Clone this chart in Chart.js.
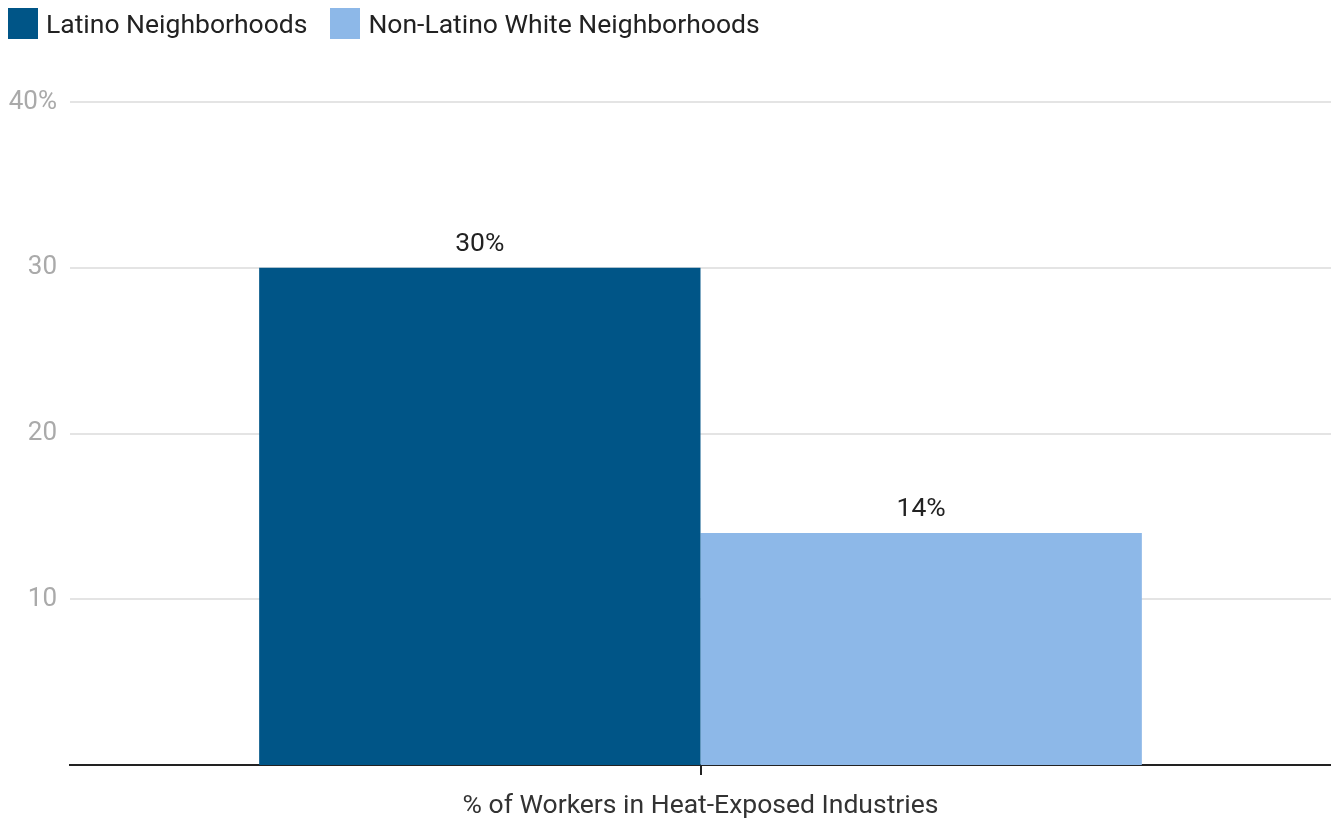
<!DOCTYPE html>
<html>
<head>
<meta charset="utf-8">
<script src="https://cdn.jsdelivr.net/npm/chart.js@4.4.1/dist/chart.umd.min.js"></script>
<style>
    html, body { margin: 0; padding: 0; background: #fff; }
    #wrap { position: relative; width: 1331px; height: 818px; }
    #legend { position: absolute; left: 8px; top: 8px; display: flex; font-family: Roboto, sans-serif; font-size: 26.5px; line-height: 31px; color: #222; }
    .item { display: flex; align-items: center; margin-right: 23px; }
    .box { width: 30px; height: 31px; margin-right: 8px; }
</style>
</head>
<body>
<div id="wrap">
    <div id="legend"></div>
    <canvas id="heatChart" width="1331" height="818"></canvas>
</div>
<script>
    const categories = ['% of Workers in Heat-Exposed Industries'];
    const seriesNames = ['Latino Neighborhoods', 'Non-Latino White Neighborhoods'];
    const latinoValues = [30];
    const whiteValues = [14];
    const seriesColors = ['#005587', '#8db8e8'];
    const yTicks = [10, 20, 30, 40];

    // Legend as plain HTML
    const legend = document.getElementById('legend');
    seriesNames.forEach(function(name, i) {
        const item = document.createElement('div');
        item.className = 'item';
        const box = document.createElement('div');
        box.className = 'box';
        box.style.background = seriesColors[i];
        const label = document.createElement('span');
        label.textContent = name;
        item.appendChild(box);
        item.appendChild(label);
        legend.appendChild(item);
    });

    // Value labels above each bar
    const barLabels = {
        id: 'barLabels',
        afterDatasetsDraw: function(chart) {
            const ctx = chart.ctx;
            ctx.save();
            ctx.font = '26.5px Roboto, sans-serif';
            ctx.fillStyle = '#222';
            ctx.textAlign = 'center';
            ctx.textBaseline = 'alphabetic';
            chart.data.datasets.forEach(function(ds, i) {
                chart.getDatasetMeta(i).data.forEach(function(bar, j) {
                    ctx.fillText(ds.data[j] + '%', bar.x, bar.y - 17);
                });
            });
            ctx.restore();
        }
    };

    new Chart(document.getElementById('heatChart'), {
        type: 'bar',
        data: {
            labels: categories,
            datasets: [{
                label: seriesNames[0],
                data: latinoValues,
                backgroundColor: seriesColors[0]
            }, {
                label: seriesNames[1],
                data: whiteValues,
                backgroundColor: seriesColors[1]
            }]
        },
        options: {
            responsive: false,
            animation: false,
            layout: {
                padding: { top: 102, right: 0, bottom: 0, left: 0 }
            },
            datasets: {
                bar: {
                    categoryPercentage: 0.7,
                    barPercentage: 1.0
                }
            },
            plugins: {
                legend: { display: false },
                tooltip: { enabled: false }
            },
            scales: {
                x: {
                    grid: {
                        offset: false,
                        drawOnChartArea: false,
                        drawTicks: true,
                        tickLength: 10,
                        color: '#222',
                        lineWidth: 2
                    },
                    border: { color: '#222', width: 2 },
                    ticks: {
                        color: '#333',
                        padding: 15,
                        font: { family: 'Roboto', size: 26.5 }
                    },
                    afterFit: function(scale) { scale.height = 53; }
                },
                y: {
                    min: 0,
                    max: 40,
                    afterBuildTicks: function(scale) {
                        scale.ticks = yTicks.map(function(v) { return { value: v }; });
                    },
                    grid: {
                        color: '#e4e4e4',
                        lineWidth: 2,
                        drawTicks: false
                    },
                    border: { display: false },
                    ticks: {
                        color: '#aaa',
                        padding: 13,
                        font: { family: 'Roboto', size: 26 },
                        callback: function(value) {
                            return value === 40 ? value + '%' : value;
                        }
                    },
                    afterFit: function(scale) { scale.width = 70; }
                }
            }
        },
        plugins: [barLabels]
    });
</script>
</body>
</html>
